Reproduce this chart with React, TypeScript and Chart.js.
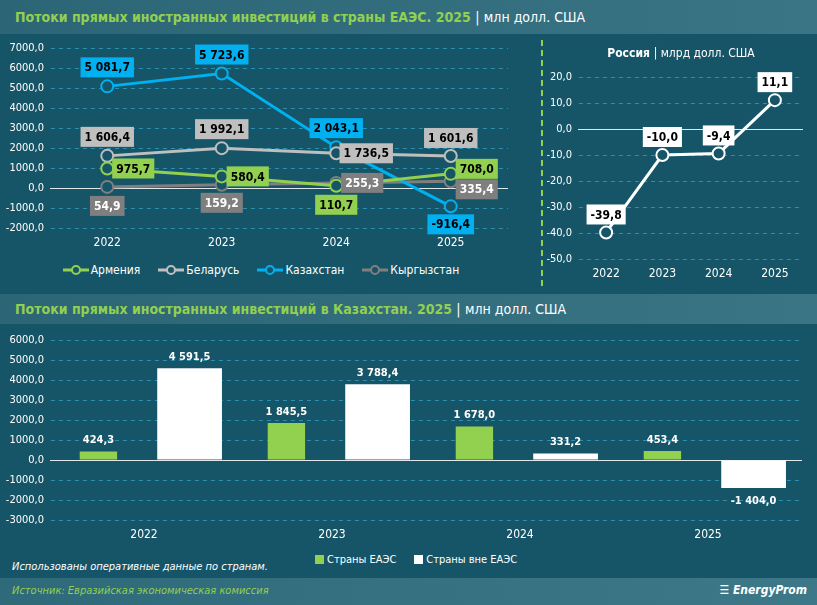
import React, { useEffect, useRef } from "react";
import { Chart, registerables } from "chart.js";
Chart.register(...registerables);

const years = ["2022", "2023", "2024", "2025"];
const armenia = [975.7, 580.4, 110.7, 708.0];
const belarus = [1606.4, 1992.1, 1736.5, 1601.6];
const kazakhstan = [5081.7, 5723.6, 2043.1, -916.4];
const kyrgyzstan = [54.9, 159.2, 255.3, 335.4];
const russia = [-39.8, -10.0, -9.4, 11.1];
const kzEaeu = [424.3, 1845.5, 1678.0, 453.4];
const kzOther = [4591.5, 3788.4, 331.2, -1404.0];

const BG = "#165567";
const FONT = "'Liberation Sans Narrow', 'DejaVu Sans Condensed', 'Liberation Sans', sans-serif";
const GRID = "#2b8fb0";

const fmt = (v: number) => {
  const s = Math.abs(v).toFixed(1).split(".");
  const i = s[0].replace(/\B(?=(\d{3})+(?!\d))/g, " ");
  return (v < 0 ? "-" : "") + i + "," + s[1];
};
const tick = (v: any) => Number(v).toFixed(1).replace(".", ",");

const labelPlugin = {
  id: "boxLabels",
  afterDatasetsDraw(chart: any) {
    const cfg = chart.options.plugins.boxLabels;
    if (!cfg) return;
    const ctx = chart.ctx;
    chart.data.datasets.forEach((ds: any, di: number) => {
      const st = cfg.styles[di];
      if (!st) return;
      const meta = chart.getDatasetMeta(di);
      meta.data.forEach((el: any, i: number) => {
        const v = ds.data[i];
        const [dx, dy] = st.offsets ? st.offsets[i] : [0, 0];
        let x = el.x + dx;
        let y = st.bar ? (v >= 0 ? el.y - 12 : el.y + 12) : el.y + dy;
        const text = fmt(v);
        ctx.save();
        ctx.font = `bold ${st.size || 12}px ${FONT}`;
        const w = ctx.measureText(text).width;
        if (st.bg) {
          ctx.fillStyle = st.bg;
          ctx.fillRect(x - w / 2 - 4, y - 10, w + 8, 20);
        }
        ctx.fillStyle = st.color;
        ctx.textAlign = "center";
        ctx.textBaseline = "middle";
        ctx.fillText(text, x, y + 1);
        ctx.restore();
      });
    });
  },
};

const zeroSolid = {
  id: "zeroSolid",
  beforeDatasetsDraw(chart: any) {
    const y = chart.scales.y.getPixelForValue(0);
    const a = chart.chartArea;
    const ctx = chart.ctx;
    ctx.save();
    ctx.strokeStyle = "#dfe8ea";
    ctx.lineWidth = 1;
    ctx.setLineDash([]);
    ctx.beginPath();
    ctx.moveTo(a.left, Math.round(y) + 0.5);
    ctx.lineTo(a.right, Math.round(y) + 0.5);
    ctx.stroke();
    ctx.restore();
  },
};

function useChart(ref: any, cfg: () => any) {
  useEffect(() => {
    const c = new Chart(ref.current, cfg());
    return () => c.destroy();
  }, []);
}

const scales = (min: number, max: number, step: number, yw: number) => ({
  x: {
    offset: true,
    grid: { display: false, drawTicks: false },
    border: { display: false },
    ticks: { color: "#ffffff", font: { family: FONT, size: 12 }, padding: 8 },
    afterFit: (s: any) => { s.height = 26; },
  },
  y: {
    min, max,
    ticks: { stepSize: step, color: "#ffffff", font: { family: FONT, size: 11 }, callback: tick, padding: 6 },
    border: { display: true, dash: [4, 4], color: "rgba(0,0,0,0)" },
    grid: {
      drawTicks: false,
      color: (c: any) => (c.tick && c.tick.value === 0 ? "rgba(0,0,0,0)" : GRID),
      lineWidth: 1,
    },
    afterFit: (s: any) => { s.width = yw; },
  },
});

function lineDs(label: string, data: number[], color: string) {
  return {
    label, data, borderColor: color, borderWidth: 3,
    pointRadius: 6, pointBorderWidth: 2, pointBackgroundColor: BG, pointBorderColor: color,
  };
}

export default function App() {
  const r1 = useRef<HTMLCanvasElement>(null);
  const r2 = useRef<HTMLCanvasElement>(null);
  const r3 = useRef<HTMLCanvasElement>(null);

  useEffect(() => { document.body.style.margin = "0"; }, []);

  useChart(r1, () => ({
    type: "line",
    data: {
      labels: years,
      datasets: [
        lineDs("Армения", armenia, "#92d050"),
        lineDs("Беларусь", belarus, "#bfbfbf"),
        lineDs("Казахстан", kazakhstan, "#00b0f0"),
        lineDs("Кыргызстан", kyrgyzstan, "#7f7f7f"),
      ],
    },
    plugins: [zeroSolid, labelPlugin],
    options: {
      responsive: false, animation: false,
      layout: { padding: { top: 14, right: 32, bottom: 0, left: 0 } },
      plugins: {
        legend: { display: false }, tooltip: { enabled: false },
        boxLabels: {
          styles: [
            { bg: "#92d050", color: "#000", offsets: [[26, 0], [26, 0], [0, 19], [26, -5]] },
            { bg: "#bfbfbf", color: "#000", offsets: [[0, -19], [0, -19], [30, 0], [0, -18]] },
            { bg: "#00b0f0", color: "#000", offsets: [[0, -19], [0, -19], [0, -19], [0, 18]] },
            { bg: "#7f7f7f", color: "#fff", offsets: [[0, 19], [0, 18], [26, 0], [26, 8]] },
          ],
        },
      },
      scales: scales(-2000, 7000, 1000, 50),
    },
  }));

  useChart(r2, () => ({
    type: "line",
    data: { labels: years, datasets: [lineDs("Россия", russia, "#ffffff")] },
    plugins: [zeroSolid, labelPlugin],
    options: {
      responsive: false, animation: false,
      layout: { padding: { top: 43, right: 14, bottom: 0, left: 0 } },
      plugins: {
        legend: { display: false }, tooltip: { enabled: false },
        boxLabels: { styles: [{ bg: "#ffffff", color: "#000", offsets: [[0, -18], [0, -18], [0, -18], [0, -18]] }] },
      },
      scales: scales(-50, 20, 10, 33),
    },
  }));

  useChart(r3, () => ({
    type: "bar",
    data: {
      labels: years,
      datasets: [
        { label: "Страны ЕАЭС", data: kzEaeu, backgroundColor: "#92d050", barPercentage: 0.41, categoryPercentage: 0.97 },
        { label: "Страны вне ЕАЭС", data: kzOther, backgroundColor: "#ffffff", barPercentage: 0.71, categoryPercentage: 0.97 },
      ],
    },
    plugins: [zeroSolid, labelPlugin],
    options: {
      responsive: false, animation: false,
      layout: { padding: { top: 16, right: 15, bottom: 0, left: 0 } },
      plugins: {
        legend: { display: false }, tooltip: { enabled: false },
        boxLabels: { styles: [{ color: "#fff", bar: true, size: 11 }, { color: "#fff", bar: true, size: 11 }] },
      },
      scales: scales(-3000, 6000, 1000, 50),
    },
  }));

  const hdr: React.CSSProperties = {
    position: "absolute", left: 0, width: 817,
    background: "linear-gradient(90deg, #2c6676 0%, #3a7585 100%)",
    fontFamily: FONT, fontWeight: "bold", fontSize: 14, color: "#92d050",
    boxSizing: "border-box", paddingLeft: 15,
  };
  const legItem = (color: string, text: string, marker: "line" | "box") => (
    <span style={{ display: "inline-flex", alignItems: "center", marginRight: 18 }}>
      {marker === "line" ? (
        <svg width="26" height="12" style={{ marginRight: 2 }}>
          <line x1="0" y1="6" x2="26" y2="6" stroke={color} strokeWidth="3" />
          <circle cx="13" cy="6" r="4" fill={BG} stroke={color} strokeWidth="2" />
        </svg>
      ) : (
        <span style={{ width: 9, height: 9, background: color, display: "inline-block", marginRight: 3 }} />
      )}
      {text}
    </span>
  );

  return (
    <div style={{ position: "relative", width: 817, height: 605, background: BG, overflow: "hidden", fontFamily: FONT, color: "#fff" }}>
      <div style={{ ...hdr, top: 0, height: 34, lineHeight: "34px" }}>
        Потоки прямых иностранных инвестиций в страны ЕАЭС. 2025 <span style={{ color: "#fff", fontWeight: "normal" }}>|</span> <span style={{ color: "#fff", fontWeight: "normal" }}>млн долл. США</span>
      </div>
      <canvas ref={r1} width={540} height={220} style={{ position: "absolute", left: 0, top: 34 }} />
      <div style={{ position: "absolute", left: 0, width: 540, top: 263, textAlign: "center", fontSize: 12 }}>
        {legItem("#92d050", "Армения", "line")}
        {legItem("#bfbfbf", "Беларусь", "line")}
        {legItem("#00b0f0", "Казахстан", "line")}
        {legItem("#7f7f7f", "Кыргызстан", "line")}
      </div>
      <div style={{ position: "absolute", left: 541, top: 40, height: 246, borderLeft: "2px dashed #92d050" }} />
      <canvas ref={r2} width={272} height={251} style={{ position: "absolute", left: 545, top: 34 }} />
      <div style={{ position: "absolute", left: 545, width: 272, top: 46, textAlign: "center", fontSize: 12, fontWeight: "bold" }}>
        Россия <span style={{ fontWeight: "normal" }}>| млрд долл. США</span>
      </div>
      <div style={{ ...hdr, top: 294, height: 30, lineHeight: "30px" }}>
        Потоки прямых иностранных инвестиций в Казахстан. 2025 <span style={{ color: "#fff", fontWeight: "normal" }}>|</span> <span style={{ color: "#fff", fontWeight: "normal" }}>млн долл. США</span>
      </div>
      <canvas ref={r3} width={817} height={222} style={{ position: "absolute", left: 0, top: 324 }} />
      <div style={{ position: "absolute", left: 315, top: 553, fontSize: 11 }}>
        {legItem("#92d050", "Страны ЕАЭС", "box")}
        {legItem("#ffffff", "Страны вне ЕАЭС", "box")}
      </div>
      <div style={{ position: "absolute", left: 12, top: 560, fontSize: 11, fontStyle: "italic" }}>
        Использованы оперативные данные по странам.
      </div>
      <div style={{ position: "absolute", left: 0, top: 578, width: 817, height: 27, background: "linear-gradient(90deg, #2e6a7a 0%, #3d7888 100%)" }}>
        <span style={{ position: "absolute", left: 12, top: 6, fontSize: 11, fontStyle: "italic", color: "#92d050" }}>
          Источник: Евразийская экономическая комиссия
        </span>
        <span style={{ position: "absolute", right: 10, top: 5, fontSize: 12, fontStyle: "italic", fontWeight: "bold" }}>
          ☰ EnergyProm
        </span>
      </div>
    </div>
  );
}
